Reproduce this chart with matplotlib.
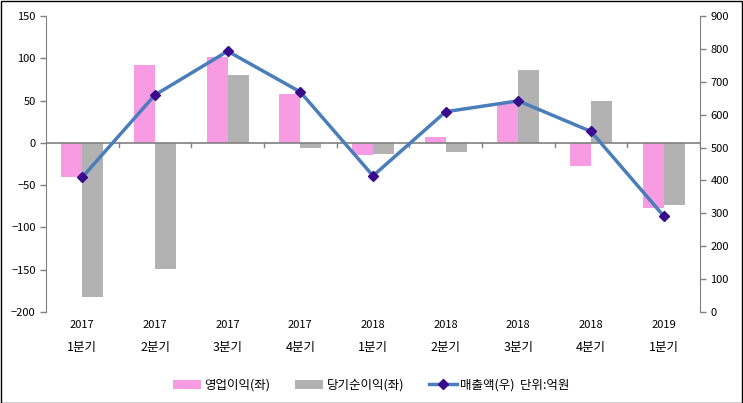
import matplotlib
matplotlib.use('Agg')
import matplotlib.pyplot as plt
import numpy as np
from matplotlib.patches import Rectangle

plt.rcParams['font.family'] = ['Noto Sans CJK KR', 'DejaVu Sans']
plt.rcParams['font.size'] = 8

# data (억원)
years = ['2017', '2017', '2017', '2017', '2018', '2018', '2018', '2018', '2019']
quarters = ['1분기', '2분기', '3분기', '4분기', '1분기', '2분기', '3분기', '4분기', '1분기']
op_profit = [-40, 92, 101, 58, -14, 7, 47, -27, -77]
net_profit = [-182, -149, 80, -6, -13, -11, 86, 50, -73]
sales = [410, 660, 793, 669, 414, 609, 642, 549, 292]

pink = '#f79be3'
grey = '#b2b2b2'
blue = '#4a7ebb'
navy = '#3a0a8c'
axcol = '#808080'

fig = plt.figure(figsize=(7.43, 4.03), dpi=100)
ax = fig.add_axes([46/743, 1 - 312/403, 654/743, 296/403])
ax2 = ax.twinx()

x = np.arange(len(quarters))
w = 0.29
b1 = ax.bar(x - w/2, op_profit, w, color=pink, label='영업이익(좌)', zorder=2)
b2 = ax.bar(x + w/2, net_profit, w, color=grey, label='당기순이익(좌)', zorder=2)
ln, = ax2.plot(x, sales, color=blue, lw=2.5, marker='D', markersize=5.5,
               markerfacecolor=navy, markeredgecolor=navy, label='매출액(우)  단위:억원')

ax.set_xlim(-0.5, len(quarters) - 0.5)
ax.set_ylim(-200, 150)
ax.set_yticks(np.arange(-200, 151, 50))
ax2.set_ylim(0, 900)
ax2.set_yticks(np.arange(0, 901, 100))

for a in (ax, ax2):
    for s in a.spines.values():
        s.set_visible(False)
    a.tick_params(axis='y', colors=axcol, labelcolor='black', labelsize=8, length=4, width=1)

ax.spines['left'].set_visible(True)
ax.spines['left'].set_color(axcol)
ax2.spines['right'].set_visible(True)
ax2.spines['right'].set_color(axcol)

# x axis at zero with ticks at category boundaries
ax.axhline(0, color=axcol, lw=1.2, zorder=3)
for b in np.arange(0.5, len(quarters) - 0.5, 1):
    ax.plot([b, b], [0, -5], color=axcol, lw=1, zorder=3)
ax.plot([len(quarters) - 0.5] * 2, [0, -5], color=axcol, lw=1, zorder=3)
ax.set_xticks([])

for i in x:
    ax.text(i, -210, years[i], ha='center', va='top', fontsize=8)
    ax.text(i, -234, quarters[i], ha='center', va='top', fontsize=9)

fig.legend(handles=[b1, b2, ln], loc='lower center', bbox_to_anchor=(0.5, 0.0),
           ncol=3, frameon=False, fontsize=9, handlelength=2.2, columnspacing=2.0,
           handletextpad=0.3)

fig.patches.append(Rectangle((0.001, 0.001), 0.997, 0.996, transform=fig.transFigure,
                             fill=False, edgecolor='black', lw=1))

fig.savefig('out.png', dpi=100)
